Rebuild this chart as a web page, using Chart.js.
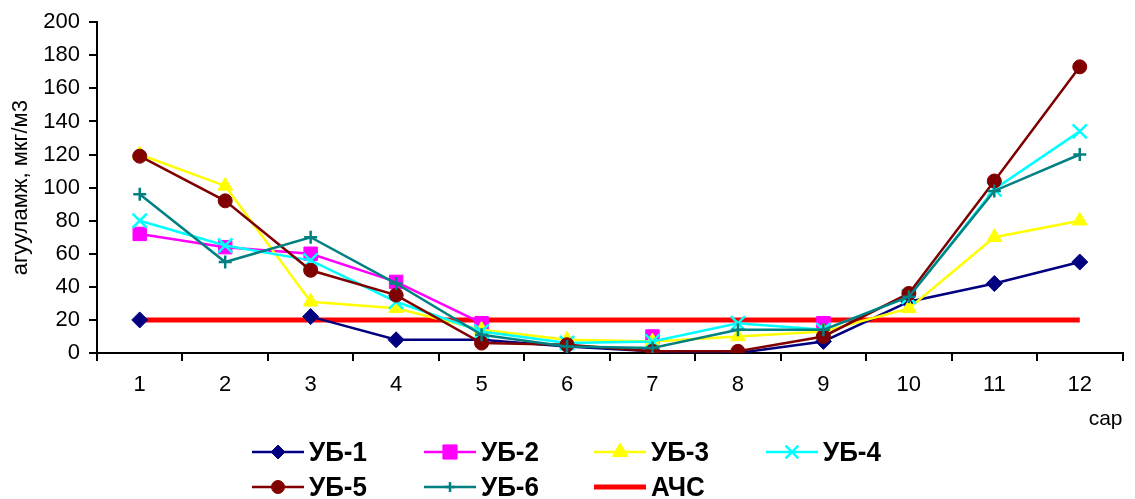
<!DOCTYPE html>
<html><head><meta charset="utf-8">
<script src="https://cdn.jsdelivr.net/npm/chart.js@4/dist/chart.umd.min.js"></script>
<style>html,body{margin:0;padding:0;background:#fff}#wrap{width:1135px;height:499px;position:relative}</style>
</head><body><div id="wrap"><canvas id="c" width="1135" height="499"></canvas></div>
<script>
const months = ['1','2','3','4','5','6','7','8','9','10','11','12'];
const ub1 = [20, null, 22, 8, 8, 4, 1, 0, 7, 31, 42, 55];
const ub2 = [72, 64, 60, 43, 18, null, 10, null, 18, null, null, null];
const ub3 = [120, 101, 31, 27, 14, 8, 7, 10, 13, 27, 70, 80];
const ub4 = [80, 65, 56, 31, 13, 6, 7, 18, 14, 34, 99, 134];
const ub5 = [119, 92, 50, 35, 6, 5, 1, 1, 10, 36, 104, 173];
const ub6 = [96, 55, 70, 42, 11, 4, 3, 14, 14, 34, 98, 120];
const ach = [20, 20, 20, 20, 20, 20, 20, 20, 20, 20, 20, 20];
const yTicks = [0, 20, 40, 60, 80, 100, 120, 140, 160, 180, 200];

function ds(label, data, color, style, radius, legendRadius, order, extra) {
  return Object.assign({
    label, data, borderColor: color, backgroundColor: color,
    pointBackgroundColor: color, pointBorderColor: color,
    borderWidth: 2.5, pointStyle: style, pointRadius: radius, pointBorderWidth: 1,
    pointHoverRadius: radius, tension: 0, spanGaps: false, order, legendRadius
  }, extra || {});
}

const datasets = [
  ds('УБ-1', ub1, '#000080', 'rectRot', 8, 7, 6),
  ds('УБ-2', ub2, '#FF00FF', 'rect', 9.5, 10, 5),
  ds('УБ-3', ub3, '#FFFF00', 'triangle', 8.5, 9, 4),
  ds('УБ-4', ub4, '#00FFFF', 'crossRot', 10, 9, 3, {pointBorderWidth: 2.5}),
  ds('УБ-5', ub5, '#800000', 'circle', 7, 6.5, 2),
  ds('УБ-6', ub6, '#008080', 'cross', 6.5, 5, 1, {pointBorderWidth: 2.5}),
  ds('АЧС', ach, '#FF0000', false, 0, 0, 7, {borderWidth: 5, pointRadius: 0, pointHoverRadius: 0})
];

const legendPlugin = {
  id: 'customLegend',
  afterDraw(chart) {
    const ctx = chart.ctx;
    const cols = [252, 424, 594, 766];
    const rows = [452, 487];
    chart.data.datasets.forEach((d, i) => {
      const x = cols[i % 4], y = rows[Math.floor(i / 4)];
      ctx.save();
      ctx.strokeStyle = d.borderColor;
      ctx.lineWidth = d.borderWidth;
      ctx.beginPath(); ctx.moveTo(x, y); ctx.lineTo(x + 52, y); ctx.stroke();
      if (d.pointStyle) {
        ctx.fillStyle = d.backgroundColor;
        ctx.strokeStyle = d.borderColor;
        ctx.lineWidth = d.pointBorderWidth;
        Chart.helpers.drawPoint(ctx, {pointStyle: d.pointStyle, radius: d.legendRadius, borderWidth: d.pointBorderWidth, rotation: 0}, x + 26, y);
      }
      ctx.restore();
      ctx.save();
      ctx.fillStyle = '#000';
      ctx.font = 'bold 26px "Liberation Sans", Arial, sans-serif';
      ctx.textBaseline = 'middle';
      ctx.textAlign = 'left';
      ctx.translate(x + 57, y + 1);
      ctx.scale(1, 1.06);
      ctx.fillText(d.label, 0, 0);
      ctx.restore();
    });
  }
};

const font = {family: '"Liberation Sans", Arial, sans-serif', size: 22};

new Chart(document.getElementById('c'), {
  type: 'line',
  data: {labels: months, datasets},
  plugins: [legendPlugin],
  options: {
    responsive: false, animation: false, devicePixelRatio: 1,
    layout: {padding: {left: 0, right: 6.5, top: 21, bottom: 66}},
    plugins: {legend: {display: false}, tooltip: {enabled: false}, title: {display: false}},
    scales: {
      x: {
        type: 'category', offset: true,
        grid: {offset: true, drawOnChartArea: false, drawTicks: true, tickLength: 8, color: '#000', lineWidth: 2},
        border: {color: '#000', width: 2},
        ticks: {color: '#000', font, padding: 11, maxRotation: 0, autoSkip: false},
        title: {display: true, text: 'сар', align: 'end', color: '#000', font: {family: font.family, size: 21}, padding: {top: 0, bottom: 1}},
        afterFit(s) { s.height = 80; }
      },
      y: {
        min: 0, max: 200,
        afterBuildTicks(s) { s.ticks = yTicks.map(v => ({value: v})); },
        grid: {drawOnChartArea: false, drawTicks: true, tickLength: 8, color: '#000', lineWidth: 2},
        border: {color: '#000', width: 2},
        ticks: {color: '#000', font, padding: 9},
        title: {display: true, text: 'агууламж, мкг/м3', color: '#000', font: {family: font.family, size: 22}, padding: {top: 8, bottom: 0}},
        afterFit(s) { s.width = 97; }
      }
    }
  }
});
</script></body></html>
